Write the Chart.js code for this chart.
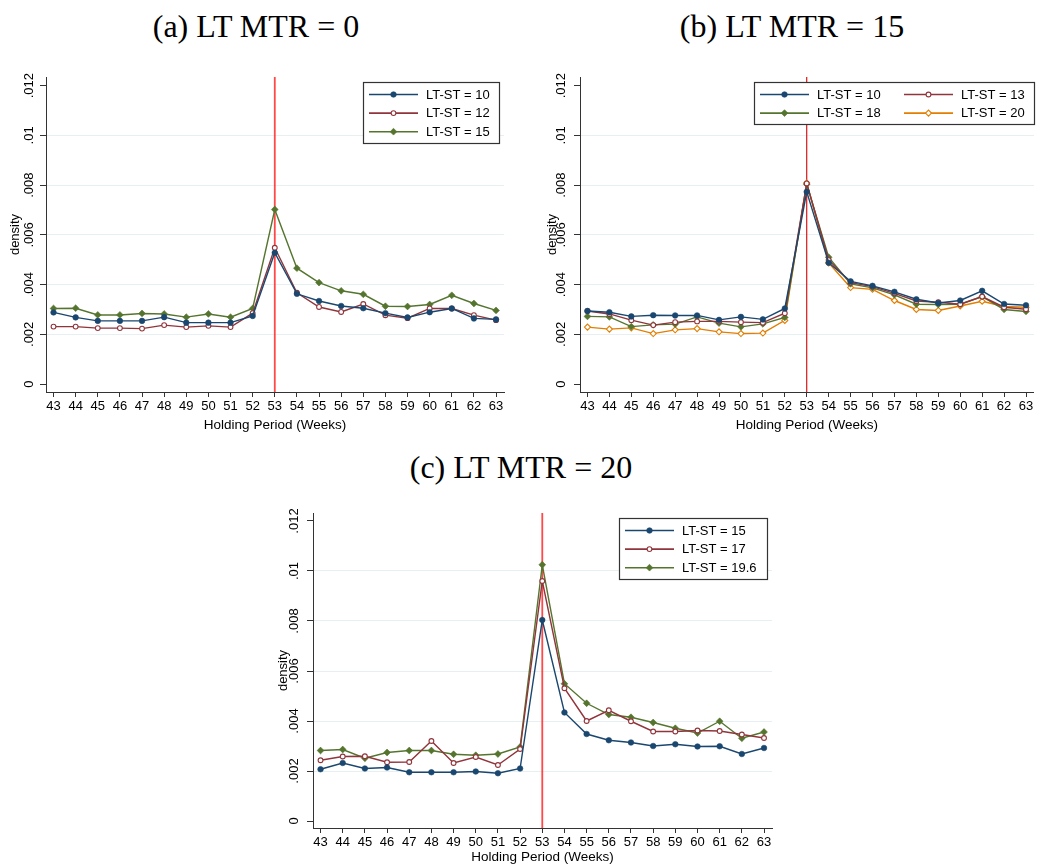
<!DOCTYPE html>
<html>
<head>
<meta charset="utf-8">
<script src="https://cdn.jsdelivr.net/npm/chart.js"></script>
<style>
  body { margin: 0; background: #fff; width: 1039px; height: 867px; position: relative; overflow: hidden; }
  .ttl { position: absolute; font-family: "Liberation Serif", "DejaVu Serif", serif; font-size: 32px; line-height: 32px;
         transform: translateX(-50%); white-space: nowrap; color: #000; }
  canvas { position: absolute; }
</style>
</head>
<body>
<div class="ttl" style="left:256px; top:10px">(a) LT MTR = 0</div>
<div class="ttl" style="left:792px; top:10px">(b) LT MTR = 15</div>
<div class="ttl" style="left:521px; top:451px">(c) LT MTR = 20</div>

<canvas id="ca" width="520" height="375" style="left:0; top:60px"></canvas>
<canvas id="cb" width="519" height="375" style="left:520px; top:60px"></canvas>
<canvas id="cc" width="520" height="372" style="left:260px; top:495px"></canvas>

<script>
// ── Data ─────────────────────────────────────────────────────
const weeks = [43, 44, 45, 46, 47, 48, 49, 50, 51, 52, 53, 54, 55, 56, 57, 58, 59, 60, 61, 62, 63];
const yTicks = [0, .002, .004, .006, .008, .01, .012];
const cutoffWeek = 53;

// (a) LT MTR = 0
const a10 = [.00288, .00268, .00254, .00254, .00254, .00269, .00247, .00247, .00247, .00274, .00528,
             .00363, .00334, .00314, .00305, .00285, .00268, .00289, .00304, .00264, .00260];
const a12 = [.00231, .00231, .00225, .00225, .00223, .00237, .00229, .00234, .00229, .00285, .00548,
             .00367, .00310, .00290, .00322, .00277, .00265, .00304, .00304, .00277, .00257];
const a15 = [.00304, .00305, .00278, .00278, .00284, .00282, .00269, .00282, .00269, .00304, .00702,
             .00466, .00408, .00375, .00361, .00313, .00312, .00320, .00357, .00324, .00296];

// (b) LT MTR = 15
const b10 = [.00294, .00289, .00272, .00277, .00276, .00276, .00258, .00270, .00260, .00304, .00773,
             .00488, .00413, .00395, .00371, .00341, .00326, .00336, .00375, .00322, .00317];
const b13 = [.00294, .00282, .00257, .00237, .00249, .00252, .00252, .00249, .00247, .00285, .00807,
             .00499, .00408, .00392, .00365, .00334, .00329, .00321, .00352, .00309, .00301];
const b18 = [.00272, .00270, .00231, .00238, .00241, .00270, .00245, .00230, .00242, .00268, .00804,
             .00510, .00403, .00387, .00359, .00321, .00320, .00321, .00352, .00300, .00292];
const b20 = [.00229, .00221, .00226, .00203, .00218, .00223, .00210, .00203, .00205, .00256, .00809,
             .00487, .00388, .00381, .00336, .00300, .00296, .00314, .00333, .00312, .00309];

// (c) LT MTR = 20
const c15 = [.00207, .00232, .00210, .00214, .00195, .00195, .00195, .00198, .00191, .00210, .00804,
             .00434, .00348, .00323, .00314, .00300, .00307, .00298, .00299, .00268, .00292];
const c17 = [.00243, .00258, .00259, .00235, .00236, .00320, .00232, .00256, .00224, .00288, .00960,
             .00531, .00400, .00443, .00399, .00358, .00358, .00362, .00360, .00346, .00332];
const c196 = [.00282, .00286, .00251, .00274, .00282, .00282, .00267, .00263, .00268, .00296, .01025,
              .00549, .00471, .00426, .00415, .00394, .00371, .00352, .00399, .00331, .00356];

// ── Style ────────────────────────────────────────────────────
const NAVY = '#1a476f', MAROON = '#90353b', GREEN = '#55752f', ORANGE = '#e37e00';
const AXIS = '#333', GRID = '#e6eff1';
const SANS = '"Liberation Sans", Arial, Helvetica, sans-serif';

function pts(vals) { return vals.map((v, i) => ({ x: weeks[i], y: v })); }

function fmtY(v) {
  if (v === 0) return '0';
  return String(+v.toFixed(3)).replace(/^0\./, '.');
}

function markerRadius(s) {
  if (s.style === 'circle') return s.hollow ? 2.4 : 2.8;
  return s.hollow ? 3.0 : 3.4;
}

function toDataset(s) {
  return {
    label: s.label,
    data: pts(s.data),
    borderColor: s.color,
    borderWidth: 1.4,
    pointStyle: s.style,
    pointRadius: markerRadius(s),
    pointBorderWidth: s.hollow ? 1.1 : 0.6,
    pointBackgroundColor: s.hollow ? '#fff' : s.color,
    pointBorderColor: s.color,
    tension: 0,
    fill: false,
    hollow: s.hollow
  };
}

// ── Plugins ──────────────────────────────────────────────────
const cutoffLine = {
  id: 'cutoff',
  beforeDatasetsDraw(chart, args, o) {
    const ctx = chart.ctx;
    const x = chart.scales.x.getPixelForValue(cutoffWeek);
    ctx.save();
    ctx.strokeStyle = o.color;
    ctx.lineWidth = o.width;
    ctx.beginPath();
    ctx.moveTo(x, chart.chartArea.top);
    ctx.lineTo(x, chart.chartArea.bottom);
    ctx.stroke();
    ctx.restore();
  }
};

function drawMarker(ctx, ds, x, y) {
  const r = ds.pointRadius;
  ctx.beginPath();
  if (ds.pointStyle === 'circle') {
    ctx.arc(x, y, r, 0, Math.PI * 2);
  } else {
    ctx.moveTo(x - r, y); ctx.lineTo(x, y - r); ctx.lineTo(x + r, y); ctx.lineTo(x, y + r); ctx.closePath();
  }
  ctx.fillStyle = ds.pointBackgroundColor;
  ctx.fill();
  ctx.lineWidth = ds.pointBorderWidth;
  ctx.strokeStyle = ds.pointBorderColor;
  ctx.stroke();
}

const boxLegend = {
  id: 'boxLegend',
  afterDraw(chart, args, o) {
    const ctx = chart.ctx;
    ctx.save();
    ctx.fillStyle = '#fff';
    ctx.fillRect(o.left, o.top, o.width, o.height);
    ctx.strokeStyle = AXIS;
    ctx.lineWidth = 1.2;
    ctx.strokeRect(o.left + .5, o.top + .5, o.width, o.height);
    chart.data.datasets.forEach((ds, i) => {
      const col = i % o.cols, row = Math.floor(i / o.cols);
      const x0 = o.left + 6 + col * o.colW;
      const y = o.top + 12.5 + row * 18.6;
      ctx.strokeStyle = ds.borderColor;
      ctx.lineWidth = 1.6;
      ctx.beginPath();
      ctx.moveTo(x0, y); ctx.lineTo(x0 + 49, y);
      ctx.stroke();
      drawMarker(ctx, ds, x0 + 24.5, y);
      ctx.fillStyle = '#000';
      ctx.font = '13px ' + SANS;
      ctx.textBaseline = 'middle';
      ctx.textAlign = 'left';
      ctx.fillText(ds.label, x0 + 57, y + 0.5);
    });
    ctx.restore();
  }
};

// ── Chart factory ────────────────────────────────────────────
function makeChart(id, series, cfg) {
  const font = { family: SANS, size: 13 };
  return new Chart(document.getElementById(id), {
    type: 'line',
    data: { datasets: series.map(toDataset) },
    plugins: [cutoffLine, boxLegend],
    options: {
      responsive: false,
      animation: false,
      events: [],
      layout: { padding: cfg.padding },
      plugins: {
        legend: { display: false },
        tooltip: { enabled: false },
        cutoff: cfg.cutoff,
        boxLegend: cfg.legend
      },
      scales: {
        x: {
          type: 'linear',
          min: 42.66, max: 63.36,
          afterBuildTicks: s => { s.ticks = weeks.map(v => ({ value: v })); },
          afterFit: s => { s.height = cfg.xHeight; },
          grid: { drawOnChartArea: false, drawTicks: true, tickLength: 5, tickColor: AXIS },
          border: { display: true, color: AXIS, width: 1 },
          ticks: { color: '#000', font, padding: 2, maxRotation: 0, autoSkip: false },
          title: { display: true, text: 'Holding Period (Weeks)', color: '#000',
                   font: { family: SANS, size: 13.5 }, padding: { top: 0, bottom: 2 } }
        },
        y: {
          type: 'linear',
          min: cfg.yMin, max: cfg.yMax,
          afterBuildTicks: s => { s.ticks = yTicks.map(v => ({ value: v })); },
          afterFit: s => { s.width = cfg.yWidth; },
          grid: {
            drawTicks: true, tickLength: 6, tickColor: AXIS, lineWidth: 1,
            color: c => (c.tick && (c.tick.value === 0 || c.tick.value === .012)) ? 'rgba(0,0,0,0)' : GRID
          },
          border: { display: true, color: AXIS, width: 1 },
          ticks: { callback: v => fmtY(v), minRotation: 90, maxRotation: 90, crossAlign: 'center',
                   padding: cfg.tickPad, color: '#000', font, autoSkip: false },
          title: { display: true, text: 'density', color: '#000', font,
                   padding: { top: cfg.titlePad, bottom: 0 } }
        }
      }
    }
  });
}

makeChart('ca', [
  { label: 'LT-ST = 10', data: a10, color: NAVY, style: 'circle', hollow: false },
  { label: 'LT-ST = 12', data: a12, color: MAROON, style: 'circle', hollow: true },
  { label: 'LT-ST = 15', data: a15, color: GREEN, style: 'rectRot', hollow: false }
], {
  padding: { left: 0, top: 17, right: 16, bottom: 0 },
  xHeight: 43, yWidth: 46, yMin: -0.00032, yMax: 0.01235, tickPad: -2, titlePad: 8,
  cutoff: { color: 'rgba(255,40,40,0.85)', width: 1.8 },
  legend: { left: 363, top: 22, width: 136, height: 61, cols: 1, colW: 0 }
});

makeChart('cb', [
  { label: 'LT-ST = 10', data: b10, color: NAVY, style: 'circle', hollow: false },
  { label: 'LT-ST = 13', data: b13, color: MAROON, style: 'circle', hollow: true },
  { label: 'LT-ST = 18', data: b18, color: GREEN, style: 'rectRot', hollow: false },
  { label: 'LT-ST = 20', data: b20, color: ORANGE, style: 'rectRot', hollow: true }
], {
  padding: { left: 0, top: 17, right: 1, bottom: 0 },
  xHeight: 43, yWidth: 60, yMin: -0.00032, yMax: 0.01235, tickPad: 0, titlePad: 25,
  cutoff: { color: '#d40000', width: 1.1 },
  legend: { left: 234, top: 22, width: 280, height: 42, cols: 2, colW: 144 }
});

makeChart('cc', [
  { label: 'LT-ST = 15', data: c15, color: NAVY, style: 'circle', hollow: false },
  { label: 'LT-ST = 17', data: c17, color: MAROON, style: 'circle', hollow: true },
  { label: 'LT-ST = 19.6', data: c196, color: GREEN, style: 'rectRot', hollow: false }
], {
  padding: { left: 0, top: 18, right: 8, bottom: 0 },
  xHeight: 39, yWidth: 53, yMin: -0.00028, yMax: 0.01232, tickPad: 0, titlePad: 16,
  cutoff: { color: 'rgba(255,40,40,0.85)', width: 1.8 },
  legend: { left: 359, top: 23, width: 148, height: 61, cols: 1, colW: 0 }
});
</script>
</body>
</html>
